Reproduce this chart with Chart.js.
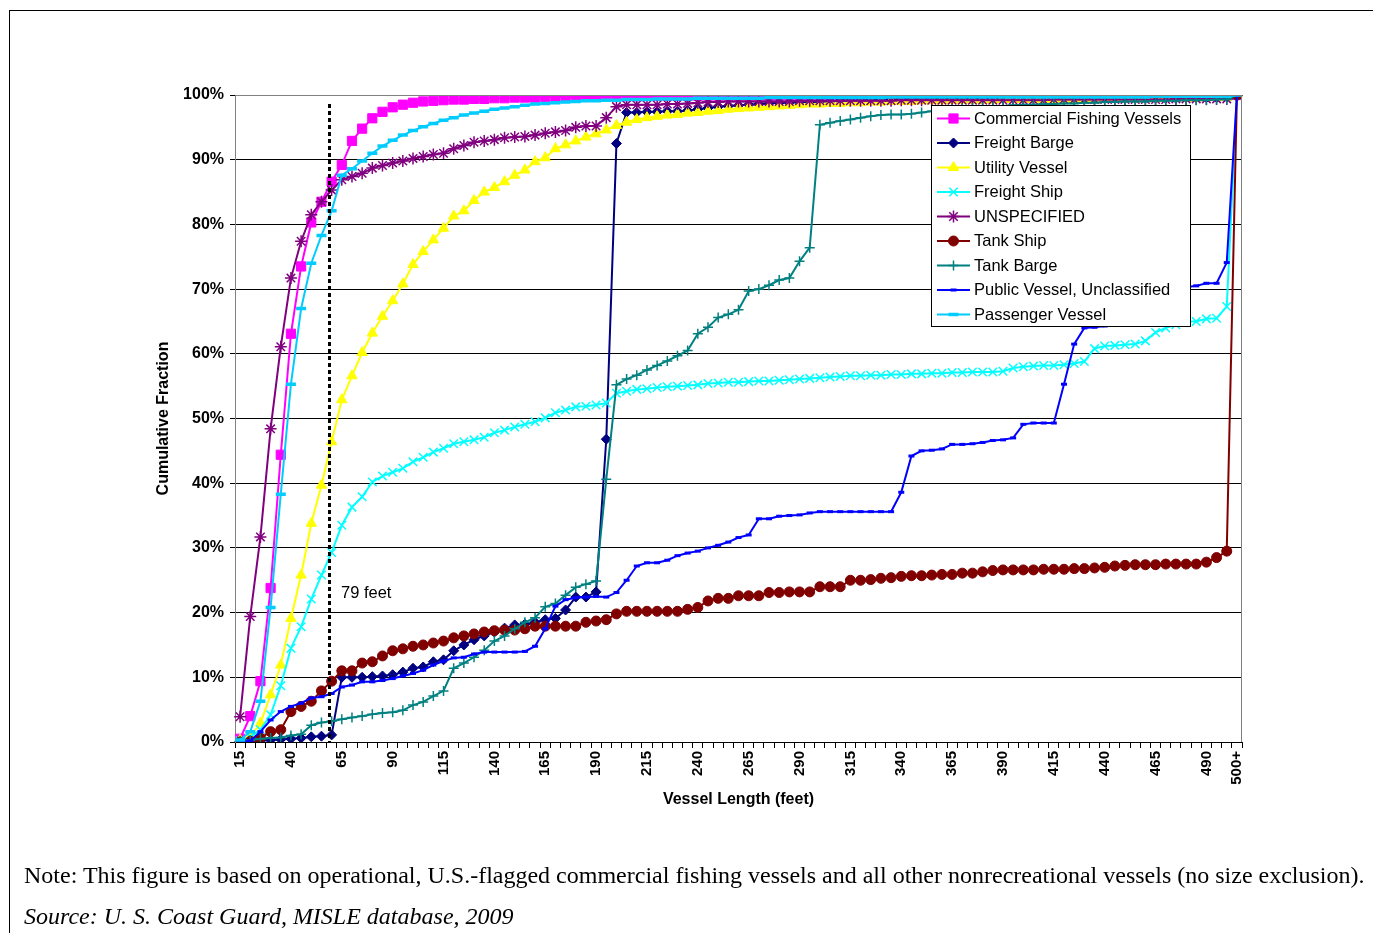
<!DOCTYPE html>
<html>
<head>
<meta charset="utf-8">
<title>Cumulative Fraction by Vessel Length</title>
<script src="https://cdn.jsdelivr.net/npm/chart.js@4.4.1/dist/chart.umd.min.js"></script>
<style>
  html, body { margin: 0; padding: 0; background: #fff; width: 1373px; height: 933px; overflow: hidden; }
  #frame { position: absolute; left: 9px; top: 10px; width: 1400px; height: 1000px;
           border-left: 1px solid #000; border-top: 1px solid #000; }
  #chart { position: absolute; left: 0; top: 0; }
  .note { position: absolute; left: 24px; font-family: "Liberation Serif", "Times New Roman", serif;
          font-size: 24px; line-height: 24px; white-space: nowrap; color: #000; }
</style>
</head>
<body>
<div id="frame"></div>
<canvas id="chart" width="1373" height="933"></canvas>
<div class="note" id="note" style="top:863px">Note: This figure is based on operational, U.S.-flagged commercial fishing vessels and all other nonrecreational vessels (no size exclusion).</div>
<div class="note" id="source" style="top:904px;font-style:italic">Source: U. S. Coast Guard, MISLE database, 2009</div>
<script>
// Vessel length categories (feet)
const lengthLabels = [
  '15','20','25','30','35','40','45','50','55','60',
  '65','70','75','80','85','90','95','100','105','110',
  '115','120','125','130','135','140','145','150','155','160',
  '165','170','175','180','185','190','195','200','205','210',
  '215','220','225','230','235','240','245','250','255','260',
  '265','270','275','280','285','290','295','300','305','310',
  '315','320','325','330','335','340','345','350','355','360',
  '365','370','375','380','385','390','395','400','405','410',
  '415','420','425','430','435','440','445','450','455','460',
  '465','470','475','480','485','490','495','500','500+'
];

// Cumulative fraction (%) of vessels at or below each length
const commercialFishing = [
  0.5, 4.0, 9.4, 23.8, 44.4, 63.1, 73.5, 80.3, 83.5, 86.6,
  89.2, 92.9, 94.8, 96.4, 97.4, 98.1, 98.5, 98.8, 99.0, 99.1,
  99.2, 99.3, 99.3, 99.4, 99.4, 99.5, 99.5, 99.6, 99.6, 99.6,
  99.7, 99.7, 99.7, 99.7, 99.8, 99.8, 99.8, 99.8, 99.8, 99.8,
  99.9, 99.9, 99.9, 99.9, 99.9, 99.9, 99.9, 99.9, 99.9, 99.9,
  99.9, 99.9, 99.9, 99.9, 99.9, 99.9, 99.9, 99.9, 99.9, 99.9,
  99.9, 99.9, 99.9, 99.9, 99.9, 99.9, 99.9, 99.9, 99.9, 99.9,
  99.9, 99.9, 99.9, 99.9, 99.9, 99.9, 99.9, 99.9, 99.9, 99.9,
  99.9, 99.9, 99.9, 99.9, 99.9, 99.9, 99.9, 99.9, 99.9, 99.9,
  100, 100, 100, 100, 100, 100, 100, 100, 100
];
const freightBarge = [
  0.1, 0.1, 0.2, 0.3, 0.4, 0.5, 0.6, 0.8, 0.9, 1.1,
  10.0, 10.0, 10.0, 10.1, 10.2, 10.4, 10.8, 11.4, 11.6, 12.4,
  12.7, 14.1, 15.0, 15.8, 16.4, 17.0, 17.6, 18.1, 18.2, 18.5,
  18.9, 19.1, 20.4, 22.4, 22.4, 23.2, 46.8, 92.5, 97.3, 97.3,
  97.4, 97.4, 97.5, 97.5, 97.6, 97.8, 98.0, 98.2, 98.3, 98.4,
  98.5, 98.6, 98.7, 98.8, 98.8, 98.9, 98.9, 99.0, 99.0, 99.1,
  99.1, 99.1, 99.2, 99.2, 99.2, 99.3, 99.3, 99.3, 99.3, 99.4,
  99.4, 99.4, 99.4, 99.4, 99.4, 99.4, 99.4, 99.4, 99.4, 99.4,
  99.5, 99.5, 99.5, 99.5, 99.5, 99.5, 99.5, 99.5, 99.5, 99.5,
  99.5, 99.5, 99.5, 99.6, 99.6, 99.6, 99.6, 99.7, 100
];
const utilityVessel = [
  0.3, 0.8, 2.9, 7.3, 11.9, 19.1, 25.8, 33.8, 39.7, 46.4,
  52.9, 56.6, 60.2, 63.2, 65.8, 68.2, 70.8, 73.8, 75.8, 77.6,
  79.4, 81.3, 82.1, 83.7, 85.0, 85.7, 86.6, 87.6, 88.4, 89.7,
  90.3, 91.7, 92.3, 92.9, 93.5, 94.0, 94.6, 95.3, 95.8, 96.2,
  96.5, 96.7, 96.9, 97.0, 97.2, 97.3, 97.5, 97.6, 97.8, 97.9,
  98.0, 98.1, 98.2, 98.3, 98.4, 98.5, 98.6, 98.6, 98.7, 98.7,
  98.8, 98.8, 98.9, 98.9, 99.0, 99.0, 99.0, 99.1, 99.1, 99.1,
  99.2, 99.2, 99.2, 99.2, 99.2, 99.3, 99.3, 99.3, 99.3, 99.3,
  99.3, 99.3, 99.3, 99.3, 99.3, 99.4, 99.4, 99.4, 99.4, 99.4,
  99.4, 99.5, 99.5, 99.5, 99.5, 99.6, 99.6, 99.6, 100
];
const freightShip = [
  0.2, 0.8, 1.9, 4.2, 8.7, 14.5, 17.8, 22.1, 25.8, 29.3,
  33.5, 36.3, 37.9, 40.2, 41.1, 41.7, 42.3, 43.3, 44.0, 44.8,
  45.4, 46.1, 46.4, 46.7, 47.1, 47.8, 48.2, 48.7, 49.1, 49.5,
  50.1, 50.9, 51.3, 51.8, 51.9, 52.1, 52.4, 53.9, 54.2, 54.5,
  54.6, 54.8, 54.9, 55.0, 55.1, 55.2, 55.4, 55.5, 55.6, 55.6,
  55.7, 55.8, 55.8, 55.9, 56.0, 56.1, 56.2, 56.3, 56.4, 56.5,
  56.6, 56.6, 56.7, 56.7, 56.8, 56.8, 56.9, 56.9, 57.0, 57.0,
  57.1, 57.1, 57.2, 57.2, 57.2, 57.3, 57.8, 58.0, 58.1, 58.2,
  58.2, 58.3, 58.5, 58.8, 60.8, 61.2, 61.3, 61.4, 61.5, 62.0,
  63.3, 64.0, 64.5, 65.0, 65.0, 65.4, 65.5, 67.3, 100
];
const unspecified = [
  3.9, 19.4, 31.7, 48.4, 61.1, 71.7, 77.4, 81.5, 83.5, 85.3,
  86.9, 87.4, 87.9, 88.7, 89.1, 89.5, 89.8, 90.2, 90.5, 90.8,
  91.0, 91.7, 92.2, 92.7, 92.9, 93.1, 93.4, 93.5, 93.6, 93.8,
  94.1, 94.3, 94.5, 95.0, 95.2, 95.2, 96.5, 98.2, 98.5, 98.5,
  98.5, 98.5, 98.6, 98.6, 98.7, 98.8, 98.9, 98.9, 99.0, 99.0,
  99.0, 99.0, 99.0, 99.0, 99.0, 99.1, 99.1, 99.1, 99.1, 99.1,
  99.1, 99.1, 99.1, 99.1, 99.1, 99.2, 99.2, 99.2, 99.2, 99.2,
  99.2, 99.2, 99.2, 99.2, 99.2, 99.2, 99.2, 99.2, 99.2, 99.2,
  99.3, 99.3, 99.3, 99.3, 99.3, 99.3, 99.3, 99.3, 99.3, 99.3,
  99.3, 99.3, 99.4, 99.4, 99.4, 99.4, 99.4, 99.4, 100
];
const tankShip = [
  0.0, 0.1, 0.6, 1.6, 1.9, 4.7, 5.5, 6.3, 7.9, 9.4,
  11.0, 11.0, 12.2, 12.4, 13.3, 14.1, 14.4, 14.8, 15.0, 15.3,
  15.6, 16.1, 16.4, 16.7, 17.0, 17.2, 17.3, 17.3, 17.5, 17.9,
  17.9, 17.9, 17.9, 17.9, 18.5, 18.7, 18.9, 19.8, 20.2, 20.2,
  20.2, 20.2, 20.2, 20.2, 20.5, 20.8, 21.8, 22.2, 22.2, 22.6,
  22.6, 22.6, 23.1, 23.1, 23.2, 23.2, 23.2, 24.0, 24.0, 24.0,
  25.0, 25.0, 25.1, 25.3, 25.4, 25.6, 25.7, 25.7, 25.8, 25.9,
  25.9, 26.1, 26.1, 26.3, 26.5, 26.6, 26.6, 26.6, 26.6, 26.7,
  26.7, 26.7, 26.8, 26.8, 26.9, 27.0, 27.2, 27.3, 27.4, 27.4,
  27.4, 27.5, 27.5, 27.5, 27.5, 27.8, 28.5, 29.5, 100
];
const tankBarge = [
  0.2, 0.3, 0.5, 0.6, 0.7, 1.0, 1.2, 2.6, 3.0, 3.2,
  3.5, 3.8, 4.0, 4.3, 4.5, 4.6, 4.9, 5.7, 6.2, 7.1,
  7.9, 11.4, 12.2, 13.1, 14.2, 15.6, 16.4, 17.5, 18.5, 19.2,
  20.9, 21.4, 22.7, 23.9, 24.4, 24.9, 40.6, 55.2, 56.1, 56.7,
  57.5, 58.2, 58.9, 59.7, 60.5, 63.1, 64.1, 65.6, 66.1, 66.8,
  69.7, 70.0, 70.6, 71.4, 71.7, 74.3, 76.4, 95.4, 95.7, 96.0,
  96.2, 96.5, 96.7, 96.9, 97.0, 97.0, 97.1, 97.3, 97.5, 97.7,
  97.8, 97.9, 98.0, 98.1, 98.2, 98.3, 98.4, 98.5, 98.5, 98.6,
  98.6, 98.7, 98.7, 98.8, 98.8, 98.9, 98.9, 99.0, 99.0, 99.0,
  99.1, 99.1, 99.1, 99.2, 99.2, 99.2, 99.3, 99.3, 100
];
const publicVessel = [
  0.0, 0.2, 1.6, 3.4, 4.7, 5.5, 6.0, 6.8, 7.0, 7.5,
  8.5, 8.8, 9.3, 9.3, 9.5, 9.8, 10.2, 10.6, 11.1, 11.9,
  12.5, 13.0, 13.1, 13.6, 13.9, 13.9, 13.9, 13.9, 14.0, 14.8,
  17.5, 21.0, 22.0, 22.3, 22.4, 22.5, 22.4, 23.1, 25.0, 27.2,
  27.7, 27.7, 28.1, 28.8, 29.2, 29.5, 30.0, 30.4, 30.9, 31.6,
  32.0, 34.5, 34.5, 34.9, 35.0, 35.1, 35.4, 35.6, 35.6, 35.6,
  35.6, 35.6, 35.6, 35.6, 35.6, 38.6, 44.2, 45.0, 45.1, 45.3,
  46.0, 46.0, 46.1, 46.3, 46.6, 46.7, 47.0, 49.1, 49.3, 49.3,
  49.3, 55.3, 61.5, 64.0, 64.1, 64.3, 65.5, 66.5, 67.5, 68.5,
  69.2, 69.8, 70.0, 70.3, 70.5, 70.9, 70.9, 74.1, 100
];
const passengerVessel = [
  0.3, 1.6, 6.3, 20.8, 38.3, 55.3, 67.0, 74.0, 78.3, 82.1,
  87.6, 88.6, 89.8, 91.0, 92.1, 93.0, 93.8, 94.5, 95.1, 95.6,
  96.1, 96.5, 96.9, 97.2, 97.5, 97.8, 98.0, 98.2, 98.4, 98.6,
  98.7, 98.8, 98.9, 99.0, 99.1, 99.1, 99.2, 99.2, 99.3, 99.3,
  99.3, 99.4, 99.4, 99.4, 99.4, 99.5, 99.5, 99.5, 99.5, 99.5,
  99.5, 99.5, 99.6, 99.6, 99.6, 99.6, 99.6, 99.6, 99.6, 99.6,
  99.6, 99.6, 99.6, 99.6, 99.7, 99.7, 99.7, 99.7, 99.7, 99.7,
  99.7, 99.7, 99.7, 99.7, 99.7, 99.7, 99.7, 99.7, 99.7, 99.7,
  99.7, 99.7, 99.7, 99.7, 99.7, 99.7, 99.7, 99.7, 99.7, 99.7,
  99.8, 99.8, 99.8, 99.8, 99.8, 99.8, 99.8, 99.8, 100
];

// 79-foot reference marker (position on the category axis, in category units)
const cutoffLabel = '79 feet';
const cutoffIndex = 8.7;
const cutoffTop = 98.6;
const cutoffLabelLevel = 23.0;

const yTicks = [0, 10, 20, 30, 40, 50, 60, 70, 80, 90, 100];

const FONT = '"Liberation Sans", Arial, Helvetica, sans-serif';
Chart.defaults.font.family = FONT;
Chart.defaults.color = '#000';

function series(label, data, color, style, radius, borderW, idx) {
  return {
    label, data,
    borderColor: color,
    backgroundColor: color,
    pointBackgroundColor: color,
    pointBorderColor: color,
    pointStyle: style,
    pointRadius: radius,
    pointHoverRadius: radius,
    pointBorderWidth: borderW,
    borderWidth: 2,
    tension: 0,
    fill: false,
    order: -idx
  };
}

const datasets = [
  series('Commercial Fishing Vessels', commercialFishing, '#FF00FF', 'rect', 6.5, 1, 0),
  series('Freight Barge', freightBarge, '#000080', 'rectRot', 5, 1, 1),
  series('Utility Vessel', utilityVessel, '#FFFF00', 'triangle', 6, 1, 2),
  series('Freight Ship', freightShip, '#00FFFF', 'crossRot', 6, 1.5, 3),
  series('UNSPECIFIED', unspecified, '#800080', 'star', 6, 1.5, 4),
  series('Tank Ship', tankShip, '#800000', 'circle', 5, 1, 5),
  series('Tank Barge', tankBarge, '#008080', 'cross', 5, 1.5, 6),
  series('Public Vessel, Unclassified', publicVessel, '#0000FF', 'line', 3, 3, 7),
  series('Passenger Vessel', passengerVessel, '#00CCFF', 'line', 5, 3.5, 8)
];

// Plot frame, the dotted 79-foot marker and the boxed legend
const overlay = {
  id: 'overlay',
  afterDatasetsDraw(chart) {
    const { ctx, chartArea: a, scales: { x, y } } = chart;
    ctx.save();

    ctx.strokeStyle = '#808080';
    ctx.lineWidth = 1;
    ctx.beginPath();
    ctx.moveTo(a.left, a.top + 0.5);
    ctx.lineTo(a.right - 0.5, a.top + 0.5);
    ctx.lineTo(a.right - 0.5, a.bottom);
    ctx.stroke();

    const cx = Math.round(x.getPixelForValue(cutoffIndex)) + 0.5;
    ctx.strokeStyle = '#000';
    ctx.lineWidth = 3;
    ctx.setLineDash([4, 3]);
    ctx.beginPath();
    ctx.moveTo(cx, y.getPixelForValue(cutoffTop));
    ctx.lineTo(cx, a.bottom);
    ctx.stroke();
    ctx.setLineDash([]);

    ctx.font = '16.5px ' + FONT;
    ctx.fillStyle = '#000';
    ctx.textAlign = 'left';
    ctx.textBaseline = 'middle';
    ctx.fillText(cutoffLabel, cx + 11.5, y.getPixelForValue(cutoffLabelLevel));

    // legend box
    const lx = a.right - 311, ly = a.top + 10, lw = 259, lh = 221;
    ctx.fillStyle = '#fff';
    ctx.fillRect(lx, ly, lw, lh);
    ctx.strokeStyle = '#000';
    ctx.lineWidth = 1;
    ctx.strokeRect(lx + 0.5, ly + 0.5, lw, lh);

    chart.data.datasets.forEach((ds, i) => {
      const ry = ly + 13.5 + i * 24.5;
      ctx.strokeStyle = ds.borderColor;
      ctx.lineWidth = ds.borderWidth;
      ctx.beginPath();
      ctx.moveTo(lx + 6, ry);
      ctx.lineTo(lx + 39, ry);
      ctx.stroke();
      ctx.fillStyle = ds.pointBackgroundColor;
      ctx.strokeStyle = ds.pointBorderColor;
      ctx.lineWidth = ds.pointBorderWidth;
      Chart.helpers.drawPoint(ctx, {
        pointStyle: ds.pointStyle, radius: ds.pointRadius, rotation: 0, borderWidth: ds.pointBorderWidth
      }, lx + 22.5, ry);
      ctx.fillStyle = '#000';
      ctx.font = '16.5px ' + FONT;
      ctx.textAlign = 'left';
      ctx.textBaseline = 'middle';
      ctx.fillText(ds.label, lx + 43, ry + 0.5);
    });

    ctx.restore();
  }
};

new Chart(document.getElementById('chart'), {
  type: 'line',
  data: { labels: lengthLabels, datasets },
  options: {
    responsive: false,
    animation: false,
    devicePixelRatio: 1,
    layout: { padding: { left: 154, top: 95, right: 131, bottom: 124 } },
    plugins: { legend: { display: false }, tooltip: { enabled: false } },
    scales: {
      x: {
        type: 'category',
        offset: true,
        grid: { drawOnChartArea: false, drawTicks: true, tickLength: 6, offset: true, color: '#000', tickColor: '#000' },
        border: { color: '#000', width: 1 },
        ticks: {
          autoSkip: false, minRotation: 90, maxRotation: 90, padding: 3,
          font: { size: 15, weight: 'bold' }, color: '#000',
          callback: (v, i) => (i % 5 === 0 || i === lengthLabels.length - 1) ? lengthLabels[i] : ''
        },
        title: { display: true, text: 'Vessel Length (feet)', font: { size: 16, weight: 'bold' }, padding: 0, color: '#000' },
        afterFit: (s) => { s.height = 67; }
      },
      y: {
        min: 0, max: 100,
        afterBuildTicks: (s) => { s.ticks = yTicks.map(v => ({ value: v })); },
        grid: { color: '#000', tickColor: '#000', tickLength: 5, drawTicks: true },
        border: { color: '#808080', width: 1 },
        ticks: { padding: 6, font: { size: 16, weight: 'bold' }, color: '#000', callback: (v) => v + '%' },
        title: { display: true, text: 'Cumulative Fraction', font: { size: 16, weight: 'bold' }, padding: 0, color: '#000' },
        afterFit: (s) => { s.width = 81; }
      }
    }
  },
  plugins: [overlay]
});
</script>
</body>
</html>
